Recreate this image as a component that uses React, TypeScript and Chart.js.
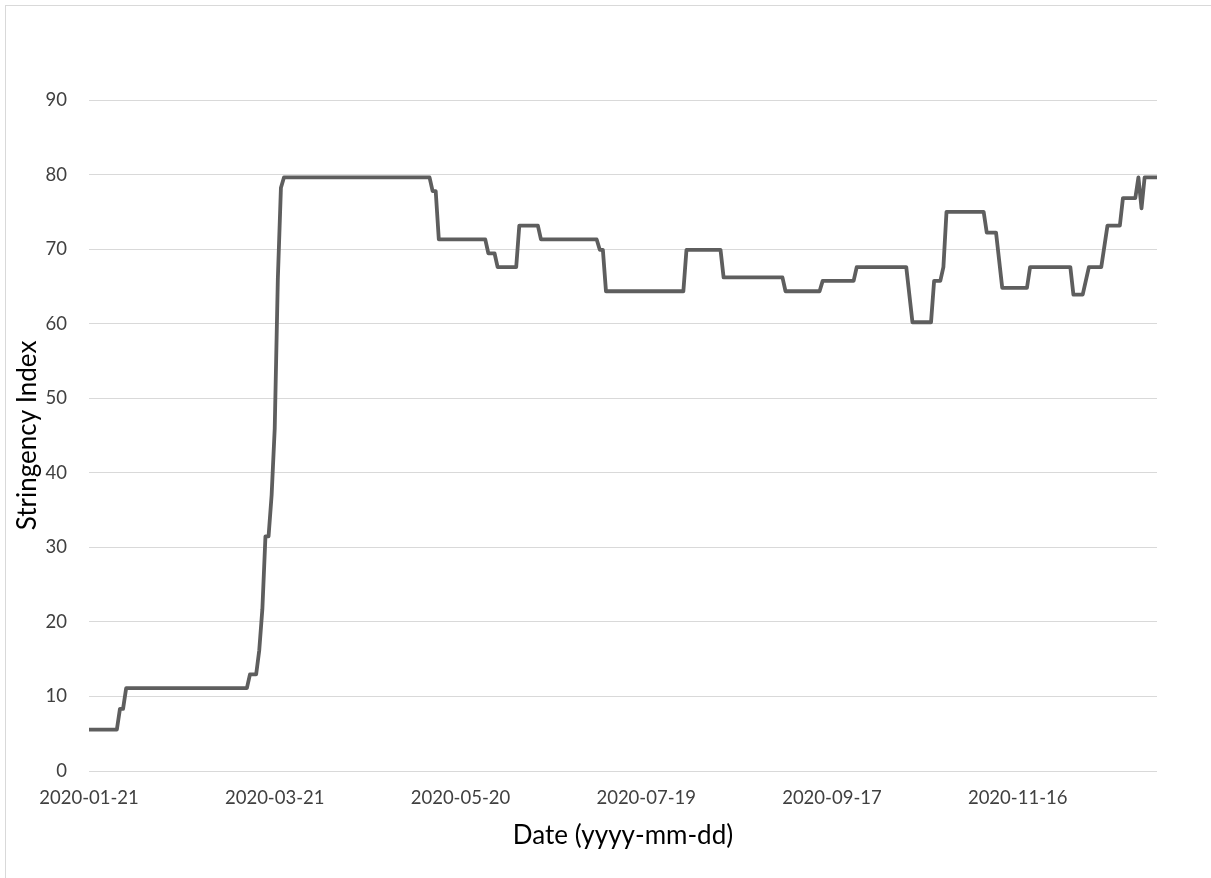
import React, { useEffect, useRef } from "react";
import { Chart, registerables } from "chart.js";

Chart.register(...registerables);

// ---- data ----
const START_DATE = "2020-01-21";
const END_DATE = "2020-12-31";

// dates where the stringency index line changes direction (daily series vertices)
const changeDates = [
  "2020-01-21", "2020-01-30", "2020-01-31", "2020-02-01", "2020-02-02",
  "2020-03-12", "2020-03-13", "2020-03-15", "2020-03-16", "2020-03-17",
  "2020-03-18", "2020-03-19", "2020-03-20", "2020-03-21", "2020-03-22",
  "2020-03-23", "2020-03-24", "2020-05-10", "2020-05-11", "2020-05-12",
  "2020-05-13", "2020-05-28", "2020-05-29", "2020-05-31", "2020-06-01",
  "2020-06-07", "2020-06-08", "2020-06-14", "2020-06-15", "2020-07-03",
  "2020-07-04", "2020-07-05", "2020-07-06", "2020-07-31", "2020-08-01",
  "2020-08-12", "2020-08-13", "2020-09-01", "2020-09-02", "2020-09-13",
  "2020-09-14", "2020-09-24", "2020-09-25", "2020-10-11", "2020-10-13",
  "2020-10-19", "2020-10-20", "2020-10-22", "2020-10-23", "2020-10-24",
  "2020-11-05", "2020-11-06", "2020-11-09", "2020-11-11", "2020-11-19",
  "2020-11-20", "2020-12-03", "2020-12-04", "2020-12-07", "2020-12-09",
  "2020-12-13", "2020-12-15", "2020-12-19", "2020-12-20", "2020-12-24",
  "2020-12-25", "2020-12-26", "2020-12-27", "2020-12-31",
];

const stringencyIndex = [
  5.56, 5.56, 8.33, 8.33, 11.11,
  11.11, 12.96, 12.96, 16.2, 21.7,
  31.48, 31.48, 37.04, 46, 66,
  78.24, 79.63, 79.63, 77.78, 77.78,
  71.3, 71.3, 69.44, 69.44, 67.59,
  67.59, 73.15, 73.15, 71.3, 71.3,
  69.91, 69.91, 64.35, 64.35, 69.91,
  69.91, 66.2, 66.2, 64.35, 64.35,
  65.74, 65.74, 67.59, 67.59, 60.19,
  60.19, 65.74, 65.74, 67.59, 75,
  75, 72.22, 72.22, 64.81, 64.81,
  67.59, 67.59, 63.89, 63.89, 67.59,
  67.59, 73.15, 73.15, 76.85, 76.85,
  79.63, 75.46, 79.63, 79.63,
];

const xTickLabels = [
  "2020-01-21", "2020-03-21", "2020-05-20", "2020-07-19", "2020-09-17", "2020-11-16",
];

const Y_MIN = 0;
const Y_MAX = 90;
const Y_STEP = 10;

const X_TITLE = "Date (yyyy-mm-dd)";
const Y_TITLE = "Stringency Index";

function dayOffset(d: string): number {
  const [y, m, dd] = d.split("-").map(Number);
  const [y0, m0, d0] = START_DATE.split("-").map(Number);
  return Math.round((Date.UTC(y, m - 1, dd) - Date.UTC(y0, m0 - 1, d0)) / 86400000);
}

const FONT = "Lato, 'Open Sans', sans-serif";

const framePlugin = {
  id: "frame",
  beforeDraw(chart: any) {
    const ctx = chart.ctx;
    ctx.save();
    ctx.fillStyle = "#ffffff";
    ctx.fillRect(0, 0, chart.width, chart.height);
    ctx.strokeStyle = "#d9d9d9";
    ctx.lineWidth = 1;
    ctx.strokeRect(5.5, 5.5, chart.width + 100, chart.height + 100);
    ctx.restore();
  },
};

export default function App() {
  const ref = useRef<HTMLCanvasElement | null>(null);

  useEffect(() => {
    document.body.style.margin = "0";
    if (!ref.current) return;
    const points = changeDates.map((d, i) => ({ x: dayOffset(d), y: stringencyIndex[i] }));
    const tickDays = xTickLabels.map((d) => dayOffset(d));

    const chart = new Chart(ref.current, {
      type: "line",
      data: {
        datasets: [
          {
            label: Y_TITLE,
            data: points,
            borderColor: "#5e5e5e",
            borderWidth: 3.8,
            pointRadius: 0,
            tension: 0,
            fill: false,
            borderJoinStyle: "round",
            borderCapStyle: "round",
          },
        ],
      },
      options: {
        animation: false,
        responsive: false,
        devicePixelRatio: 1,
        layout: { padding: { left: 12, right: 54, top: 100, bottom: 27 } },
        plugins: { legend: { display: false }, tooltip: { enabled: false } },
        scales: {
          x: {
            type: "linear",
            min: 0,
            max: dayOffset(END_DATE),
            grid: { display: false, drawTicks: false },
            border: { display: false },
            afterBuildTicks: (scale: any) => {
              scale.ticks = tickDays.map((v) => ({ value: v }));
            },
            afterFit: (scale: any) => {
              scale.height = 80;
            },
            ticks: {
              autoSkip: false,
              maxRotation: 0,
              padding: 16,
              color: "#404040",
              font: { family: FONT, size: 18.5 },
              callback: (v: any) => {
                const i = tickDays.indexOf(Number(v));
                return i >= 0 ? xTickLabels[i] : "";
              },
            },
            title: {
              display: true,
              text: X_TITLE,
              color: "#000000",
              font: { family: FONT, size: 26 },
              padding: 0,
            },
          },
          y: {
            min: Y_MIN,
            max: Y_MAX,
            grid: { color: "#d9d9d9", lineWidth: 1, drawTicks: false },
            border: { display: false },
            afterFit: (scale: any) => {
              scale.width = 77;
            },
            ticks: {
              stepSize: Y_STEP,
              padding: 22,
              color: "#404040",
              font: { family: FONT, size: 18.5 },
            },
            title: {
              display: true,
              text: Y_TITLE,
              color: "#000000",
              font: { family: FONT, size: 26 },
              padding: 0,
            },
          },
        },
      },
      plugins: [framePlugin],
    });
    return () => chart.destroy();
  }, []);

  return <canvas ref={ref} width={1211} height={878} style={{ display: "block" }} />;
}
